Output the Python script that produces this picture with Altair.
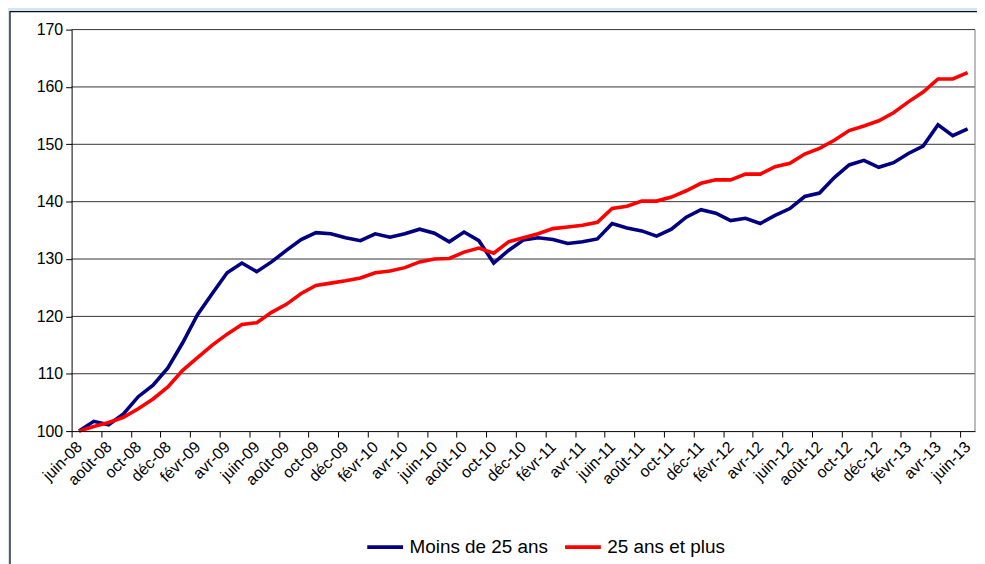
import altair as alt
import pandas as pd

# ---------------- data ----------------
month_abbr = ["janv", "févr", "mars", "avr", "mai", "juin", "juil", "août",
              "sept", "oct", "nov", "déc"]
months = [f"{month_abbr[(5 + k) % 12]}-{8 + (5 + k) // 12:02d}" for k in range(61)]

series_names = ["Moins de 25 ans", "25 ans et plus"]
series_colors = ["#000080", "#ff0000"]

moins_25 = [100.0, 101.7, 101.1, 103.0, 106.0, 108.0, 111.0, 115.4, 120.3, 124.0,
            127.6, 129.3, 127.8, 129.5, 131.5, 133.4, 134.6, 134.4, 133.7, 133.2,
            134.4, 133.8, 134.4, 135.2, 134.5, 133.0, 134.7, 133.2, 129.3, 131.5,
            133.3, 133.7, 133.4, 132.7, 133.0, 133.5, 136.2, 135.4, 134.9, 134.0,
            135.2, 137.3, 138.6, 138.0, 136.7, 137.1, 136.2, 137.6, 138.8, 140.9,
            141.5, 144.2, 146.4, 147.2, 146.0, 146.8, 148.4, 149.7, 153.4, 151.5,
            152.7]
plus_25 = [100.0, 100.8, 101.5, 102.4, 103.9, 105.6, 107.7, 110.6, 112.8, 115.0,
           116.9, 118.6, 118.9, 120.7, 122.1, 124.0, 125.4, 125.8, 126.2, 126.7,
           127.6, 127.9, 128.5, 129.5, 130.0, 130.1, 131.2, 131.9, 131.0, 133.0,
           133.7, 134.4, 135.3, 135.6, 135.9, 136.4, 138.8, 139.2, 140.1, 140.1,
           140.8, 141.9, 143.2, 143.8, 143.8, 144.8, 144.8, 146.1, 146.7, 148.3,
           149.3, 150.7, 152.4, 153.2, 154.1, 155.5, 157.4, 159.1, 161.4, 161.4,
           162.5]

y_ticks = [100, 110, 120, 130, 140, 150, 160, 170]

rows = []
for name, vals in zip(series_names, [moins_25, plus_25]):
    for i, v in enumerate(vals):
        rows.append({"i": i, "v": v, "s": name})
df = pd.DataFrame(rows)

# ---------------- layout ----------------
W, H = 909, 404
FONT = "Liberation Sans"
n = len(months)
step = W / n

x_scale = alt.Scale(domain=[-0.5, n - 0.5], nice=False, zero=False)
y_scale = alt.Scale(domain=[y_ticks[0], y_ticks[-1]], nice=False, zero=False)

tick_vals = [k - 0.5 for k in range(0, n, 2)]
label_arr = "[" + ",".join(f"'{m}'" for m in months) + "]"

y_axis = alt.Axis(values=y_ticks, labelFont=FONT, labelFontSize=16,
                  labelColor="black", labelPadding=3, tickSize=6,
                  tickColor="black", domainColor="black", grid=False,
                  zindex=1)

panel = alt.Chart(pd.DataFrame({"a": [0]})).mark_rect(
    fill="white", stroke="#111111", strokeWidth=1.3
).encode(
    x=alt.value(-62), x2=alt.value(W + 40),
    y=alt.value(-18), y2=alt.value(H + 200)
)

grid = alt.Chart(pd.DataFrame({"g": y_ticks[1:]})).mark_rule(
    color="#333333", strokeWidth=1
).encode(y=alt.Y("g:Q", scale=y_scale, title=None, axis=y_axis))

right_border = alt.Chart(pd.DataFrame({"a": [0]})).mark_rule(
    color="#777777", strokeWidth=1
).encode(x=alt.value(W), y=alt.value(0), y2=alt.value(H))

lines = alt.Chart(df).mark_line(strokeWidth=3.6).encode(
    x=alt.X("i:Q", scale=x_scale, title=None,
            axis=alt.Axis(values=tick_vals,
                          labelExpr=f"{label_arr}[round(datum.value + 0.5)]",
                          labelAngle=315, labelAlign="right", labelBaseline="middle",
                          labelOffset=step / 2, labelPadding=7, labelOverlap=False,
                          labelFont=FONT, labelFontSize=16, labelColor="black",
                          tickSize=6, tickColor="black", domainColor="black",
                          grid=False, zindex=1)),
    y=alt.Y("v:Q", scale=y_scale, title=None, axis=y_axis),
    color=alt.Color("s:N", scale=alt.Scale(domain=series_names, range=series_colors),
                    sort=series_names,
                    legend=alt.Legend(title=None, orient="none", direction="horizontal",
                                      legendX=295, legendY=500,
                                      symbolType="stroke", symbolSize=1300,
                                      symbolStrokeWidth=4, labelFont=FONT,
                                      labelFontSize=19, labelColor="black",
                                      labelOffset=4, columnPadding=8)),
    order=alt.Order("s:N")
)

chart = alt.layer(panel, grid, right_border, lines).properties(
    width=W, height=H,
    autosize=alt.AutoSizeParams(type="none"),
    padding={"left": 64, "top": 20, "right": 2, "bottom": 132},
    background="#d4e6f6",
).configure_view(stroke=None).configure_legend(symbolStrokeWidth=4)

chart.save("out.html", embed_options={"renderer": "svg", "actions": False})
